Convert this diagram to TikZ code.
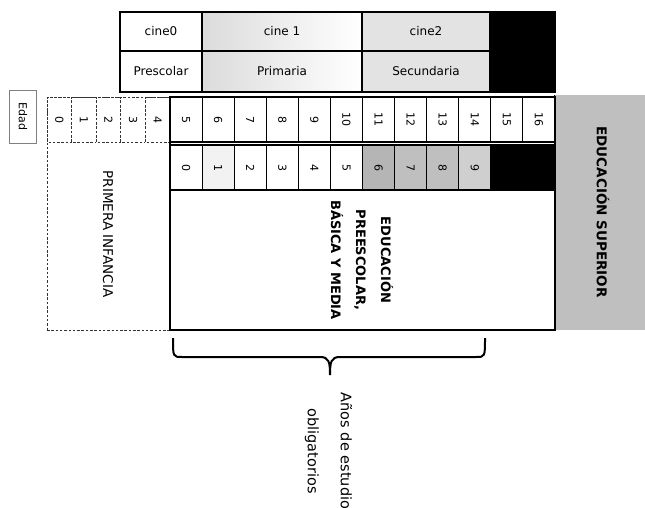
\documentclass[tikz,border=0pt]{standalone}
\usepackage{fontspec}
\setmainfont{DejaVu Sans}
\begin{document}
\begin{tikzpicture}[x=1pt,y=-1pt,
  topcell/.style={draw=black, line width=1.1pt, inner sep=0pt, minimum width=#1, font=\fontsize{12}{14}\selectfont},
  numcell/.style={draw=black, line width=1.1pt, inner sep=0pt, rotate=-90, minimum width=45pt, minimum height=32.08pt, font=\fontsize{11}{13}\selectfont},
  dashcell/.style={draw=black!80, line width=0.9pt, dash pattern=on 2.5pt off 1.8pt, inner sep=0pt, rotate=-90, minimum width=45pt, minimum height=24.6pt, font=\fontsize{11}{13}\selectfont},
  bigtext/.style={rotate=-90, align=center, inner sep=0pt},
]
\useasboundingbox (0,0) rectangle (645,508);

% top table
\node[topcell=82pt, minimum height=39pt] (c0) at (161,31.5) {cine0};
\node[topcell=160pt, minimum height=39pt, left color=gray!28, right color=white] (c1) at (282,31.5) {cine 1};
\node[topcell=128pt, minimum height=39pt, fill=gray!22] (c2) at (426,31.5) {cine2};
\node[topcell=82pt, minimum height=41pt] (p0) at (161,71.5) {Prescolar};
\node[topcell=160pt, minimum height=41pt, left color=gray!28, right color=white] (p1) at (282,71.5) {Primaria};
\node[topcell=128pt, minimum height=41pt, fill=gray!22] (p2) at (426,71.5) {Secundaria};
\node[topcell=65pt, minimum height=80pt, fill=black] (c3) at (522.5,52) {};

% Edad
\node[draw=gray, line width=0.7pt, rotate=-90, minimum width=53pt, minimum height=27pt, inner sep=0pt, font=\fontsize{11}{13}\selectfont] (edad) at (23,116.5) {Edad};

% higher education column
\node[fill=gray!50, minimum width=90pt, minimum height=235pt, inner sep=0pt] (es) at (600,212.5) {};
\draw[line width=1.1pt] (es.north west) -- (es.south west);
\node[bigtext, font=\bfseries\fontsize{13.5}{16}\selectfont] (esl) at (603,212) {EDUCACIÓN SUPERIOR};

% primera infancia dashed box
\node[draw=black!80, line width=0.9pt, dash pattern=on 2.5pt off 1.8pt, minimum width=123pt, minimum height=233pt, inner sep=0pt] (pi) at (108.5,213.5) {};
\node[bigtext, font=\fontsize{13.5}{16}\selectfont] (pil) at (108,234) {PRIMERA INFANCIA};

% main box
\node[draw=black, line width=1.1pt, minimum width=385pt, minimum height=233pt, inner sep=0pt] (eb) at (362.5,213.5) {};
\node[bigtext, font=\bfseries\fontsize{13}{25}\selectfont] (ebl) at (362,260) {EDUCACIÓN\\PREESCOLAR,\\BÁSICA Y MEDIA};

% age row
\foreach \i in {0,...,4} {
  \pgfmathsetmacro\cx{47+24.6*(\i+0.5)}
  \node[dashcell] (a\i) at (\cx,119.5) {\i};
}
\foreach \i in {5,...,16} {
  \pgfmathsetmacro\cx{170+32.083*(\i-4.5)}
  \node[numcell, fill=white] (a\i) at (\cx,119.5) {\i};
}

% grade row
\foreach \i/\f in {0/white,1/gray!10,2/white,3/white,4/white,5/white,6/gray!58,7/gray!50,8/gray!50,9/gray!38} {
  \pgfmathsetmacro\cx{170+32.083*(\i+0.5)}
  \node[numcell, fill=\f] (g\i) at (\cx,167.5) {\i};
}
\foreach \i in {10,11} {
  \pgfmathsetmacro\cx{170+32.083*(\i+0.5)}
  \node[numcell, fill=black] (g\i) at (\cx,167.5) {};
}

% brace
\coordinate (bl) at (173,338);
\coordinate (br) at (485,338);
\coordinate (tip) at (330,375);
\draw[line width=2pt, line join=round] (bl) .. controls (173,357) and (173,357) .. (182,357) -- (320,357) .. controls (329,357) and (330,362) .. (tip);
\draw[line width=2pt, line join=round] (br) .. controls (485,357) and (485,357) .. (476,357) -- (340,357) .. controls (331,357) and (330,362) .. (tip);

\node[bigtext, font=\fontsize{14.5}{33}\selectfont] (obl) at (328.5,451) {Años de estudio\\obligatorios};
\end{tikzpicture}
\end{document}
